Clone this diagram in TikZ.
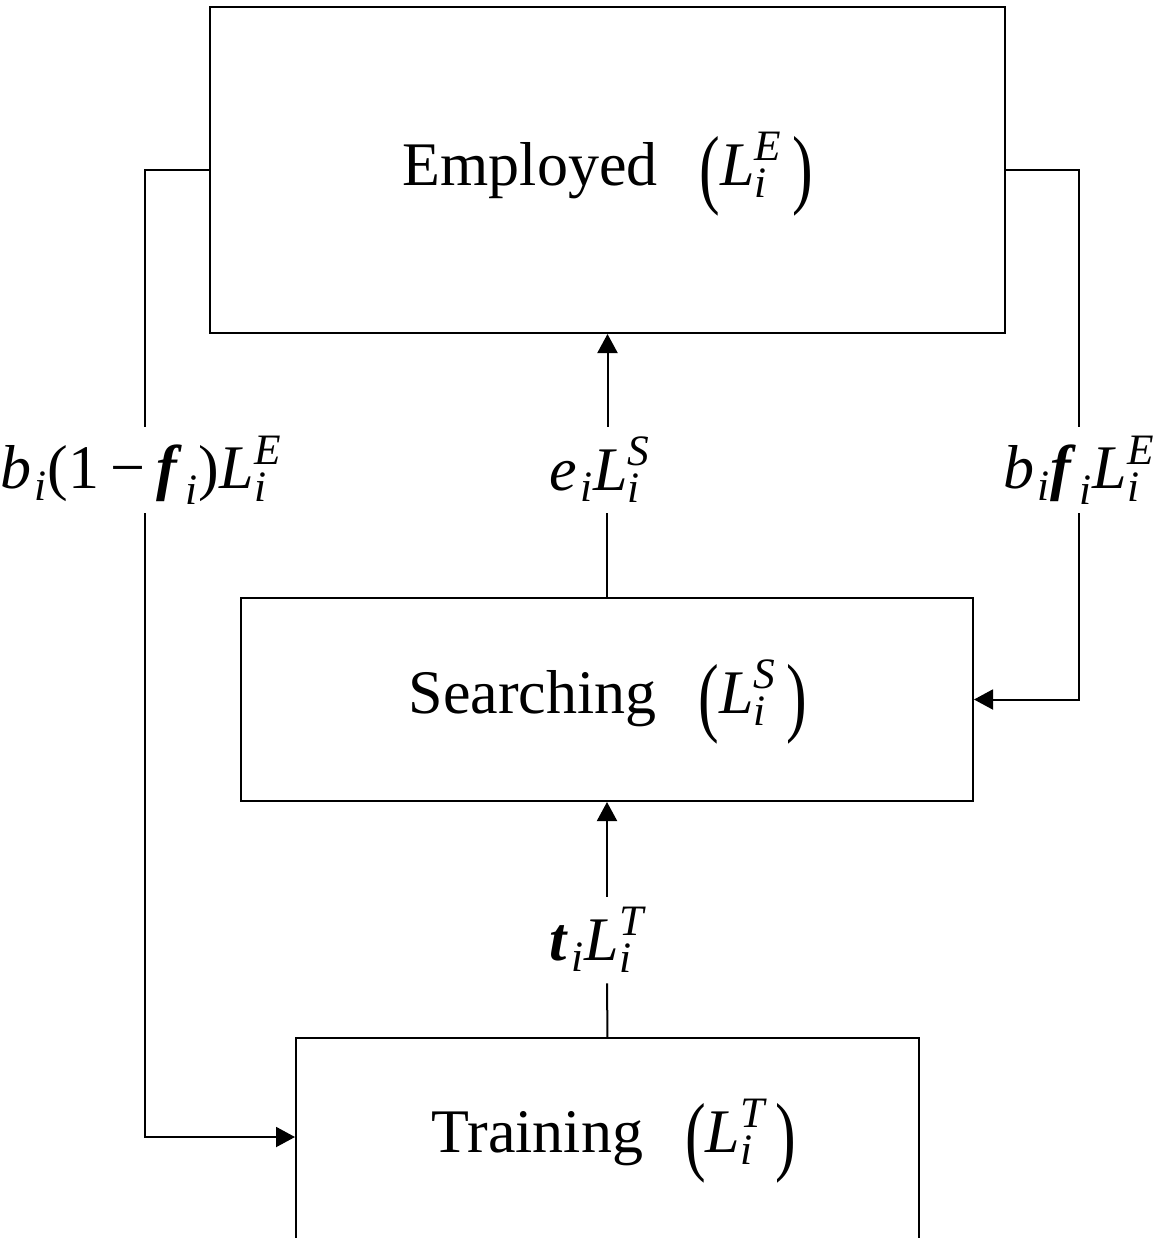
\documentclass[tikz,border=0pt]{standalone}
\usepackage{amsmath}
\usepackage{fontspec}
\setmainfont{Liberation Serif}
\usetikzlibrary{arrows.meta,calc}

% italic and bold-italic letters taken from the text font
\newcommand{\iv}[1]{\textit{#1}}
\newcommand{\bv}[1]{\textbf{\textit{#1}}}
\newcommand{\sbi}{_{\mkern1.5mu\iv{i}}}
\newcommand{\Lsub}[1]{\iv{L}_{\iv{i}}^{\iv{#1}}}
\newcommand{\tallparen}[1]{\raisebox{-0.19em}{\scalebox{1}[1.42]{#1}}}
\newcommand{\stagename}[2]{#1\hspace{0.68em}\tallparen{(}$\Lsub{#2}$\,\tallparen{)}}

\tikzset{
  stagebox/.style={draw, line width=1pt, inner sep=0pt},
  stagetext/.style={inner sep=0pt},
  flowlabel/.style={inner sep=0pt, minimum height=43pt},
  flow/.style={line width=1pt},
  flowarrow/.style={line width=1pt, -{Triangle[length=9.5pt,width=10pt]}},
}

\begin{document}
\begin{tikzpicture}[x=0.5pt, y=-0.5pt, font=\fontsize{31}{37}\selectfont]
  \clip (0,0) rectangle (1156,1238);
  \useasboundingbox (0,0) rectangle (1156,1238);

  % the three stages of the labour force
  \node[stagebox, minimum width=397.5pt, minimum height=163pt] (E) at (607.5,170) {};
  \node[stagebox, minimum width=366pt, minimum height=101.5pt] (S) at (607,699.5) {};
  \node[stagebox, minimum width=311.5pt, minimum height=200pt] (T) at (607.5,1238) {};
  \node[stagetext] (Etext) at (608,174) {\stagename{Employed}{E}};
  \node[stagetext] (Stext) at (608,702) {\stagename{Searching}{S}};
  \node[stagetext] (Ttext) at (614,1141) {\stagename{Training}{T}};

  % transition rates
  \node[flowlabel] (lL) at (141,470)
    {$\iv{b}\sbi\text{(1}\mathbin{\text{\char"2212}}\bv{f}\sbi\text{)}\Lsub{E}$};
  \node[flowlabel] (lC) at (600,470) {$\iv{e}\sbi\Lsub{S}$};
  \node[flowlabel] (lR) at (1079,470) {$\iv{b}\sbi\bv{f}\sbi\Lsub{E}$};
  \node[flowlabel] (lT) at (597,940) {$\bv{t}\sbi\Lsub{T}$};

  % searching -> employed
  \draw[flow] (S.north) -- (S.north |- lC.south);
  \draw[flowarrow] (E.south |- lC.north) -- (E.south);

  % training -> searching
  \draw[flow] (T.north |- 0,1038) -- (S.south |- lT.south);
  \draw[flowarrow] (S.south |- lT.north) -- (S.south);

  % employed -> training (left loop)
  \draw[flow] (E.west) -| (145,0 |- lL.north);
  \draw[flowarrow] (145,0 |- lL.south) |- (T.west |- 0,1137);

  % employed -> searching (right loop)
  \draw[flow] (E.east) -| (lR.north);
  \draw[flowarrow] (lR.south) |- (S.east);
\end{tikzpicture}
\end{document}
